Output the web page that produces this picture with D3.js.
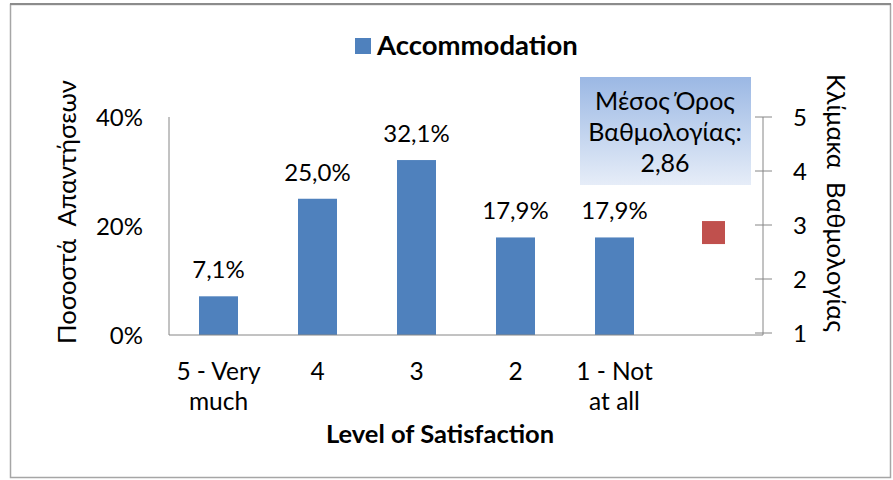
<!DOCTYPE html>
<html>
<head>
<meta charset="utf-8">
<script src="https://cdn.jsdelivr.net/npm/d3@7"></script>
<style>
  body { margin: 0; background: #fff; }
  text { font-family: Lato, "Open Sans", sans-serif; fill: #000; }
  .axis path, .axis line { stroke: #868686; }
</style>
</head>
<body>
<svg id="chart" width="893" height="480"></svg>
<script>
// data
const categories = ['5 - Very much', '4', '3', '2', '1 - Not at all'];
const tickLines = [['5 - Very', 'much'], ['4'], ['3'], ['2'], ['1 - Not', 'at all']];
const percents = [7.1, 25.0, 32.1, 17.9, 17.9];
const meanScore = 2.86;
const leftTicks = [0, 20, 40];
const rightTicks = [1, 2, 3, 4, 5];

const margin = { top: 117, bottom: 145, left: 169, right: 130 };
const dims = {
    width: 893 - margin.left - margin.right,
    height: 480 - margin.top - margin.bottom,
};

const svg = d3.select('#chart');

// outer frame
svg.append('rect')
   .attr('x', 10.5).attr('y', 4.5)
   .attr('width', 880).attr('height', 473)
   .attr('fill', '#fff')
   .attr('stroke', '#a6a6a6')
   .attr('stroke-width', 1.5);
svg.append('line')
   .attr('x1', 10).attr('x2', 891).attr('y1', 4).attr('y2', 4)
   .attr('stroke', '#8c8c8c').attr('stroke-width', 2);

const g = svg.append('g')
   .attr('transform', `translate(${margin.left}, ${margin.top})`);

const slots = categories.concat(['mean']);
const x = d3.scaleBand().domain(slots).range([0, dims.width]);
const y = d3.scaleLinear().domain([0, 40]).range([dims.height, 0]);
const y2 = d3.scaleLinear().domain([1, 5]).range([dims.height - 2, 0]);

const fmt = v => v.toFixed(1).replace('.', ',') + '%';
const barW = 39;

// bars
g.selectAll('rect.bar')
 .data(percents)
 .enter().append('rect')
 .attr('class', 'bar')
 .attr('x', (d, i) => x(categories[i]) + x.bandwidth() / 2 - barW / 2)
 .attr('width', barW)
 .attr('y', d => y(d))
 .attr('height', d => dims.height - y(d))
 .attr('fill', '#4f81bd');

// data labels
g.selectAll('text.lbl')
 .data(percents)
 .enter().append('text')
 .attr('class', 'lbl')
 .attr('x', (d, i) => x(categories[i]) + x.bandwidth() / 2)
 .attr('y', d => y(d) - 18)
 .attr('text-anchor', 'middle')
 .style('font-size', '24px')
 .text(fmt);

// left axis
g.append('line')
 .attr('x1', 0).attr('x2', 0).attr('y1', 0).attr('y2', dims.height)
 .attr('stroke', '#868686');
g.selectAll('text.ltick')
 .data(leftTicks)
 .enter().append('text')
 .attr('x', -26)
 .attr('y', d => y(d))
 .attr('dy', '0.36em')
 .attr('text-anchor', 'end')
 .style('font-size', '24px')
 .text(d => d + '%');

// bottom axis
g.append('line')
 .attr('x1', 0).attr('x2', dims.width).attr('y1', dims.height).attr('y2', dims.height)
 .attr('stroke', '#868686');
g.selectAll('text.xtick')
 .data(tickLines)
 .enter().append('text')
 .attr('text-anchor', 'middle')
 .attr('transform', (d, i) => `translate(${x(categories[i]) + x.bandwidth() / 2}, ${dims.height + 45})`)
 .style('font-size', '24.5px')
 .selectAll('tspan')
 .data(d => d)
 .enter().append('tspan')
 .attr('x', 0)
 .attr('dy', (d, i) => i === 0 ? 0 : 30)
 .text(d => d);

// right axis
const right = g.append('g')
 .attr('class', 'axis')
 .attr('transform', `translate(${dims.width}, 0)`);
right.append('line')
 .attr('y1', y2(5)).attr('y2', dims.height).attr('stroke', '#868686');
right.selectAll('line.tick')
 .data(rightTicks)
 .enter().append('line')
 .attr('x1', -8).attr('x2', 9)
 .attr('y1', d => y2(d)).attr('y2', d => y2(d))
 .attr('stroke', '#868686');
right.selectAll('text')
 .data(rightTicks)
 .enter().append('text')
 .attr('x', 30)
 .attr('y', d => y2(d))
 .attr('dy', '0.36em')
 .style('font-size', '24px')
 .text(d => d);

// mean marker
g.append('rect')
 .attr('x', x('mean') + x.bandwidth() / 2 - 11.5)
 .attr('y', y2(meanScore) - 11.5)
 .attr('width', 23).attr('height', 23)
 .attr('fill', '#c0504d');

// mean info box
const grad = svg.append('defs').append('linearGradient')
 .attr('id', 'boxgrad').attr('x1', 0).attr('x2', 0).attr('y1', 0).attr('y2', 1);
grad.append('stop').attr('offset', '0%').attr('stop-color', '#9bb8e4');
grad.append('stop').attr('offset', '100%').attr('stop-color', '#e6edf8');
svg.append('rect')
 .attr('x', 580).attr('y', 77).attr('width', 171).attr('height', 108)
 .attr('fill', 'url(#boxgrad)');
svg.append('text')
 .attr('text-anchor', 'middle')
 .attr('transform', 'translate(665, 110)')
 .style('font-size', '25px')
 .selectAll('tspan')
 .data(['Μέσος Όρος', 'Βαθμολογίας:', String(meanScore).replace('.', ',')])
 .enter().append('tspan')
 .attr('x', 0)
 .attr('dy', (d, i) => i === 0 ? 0 : 31)
 .text(d => d);

// legend / title
svg.append('rect')
 .attr('x', 355).attr('y', 38).attr('width', 16).attr('height', 16)
 .attr('fill', '#4f81bd');
svg.append('text')
 .attr('x', 377).attr('y', 55)
 .style('font-size', '27.5px').style('font-weight', 'bold')
 .text('Accommodation');

// axis titles
svg.append('text')
 .attr('text-anchor', 'middle')
 .attr('x', 440).attr('y', 443)
 .style('font-size', '25.5px').style('font-weight', 'bold')
 .text('Level of Satisfaction');

svg.append('text')
 .attr('text-anchor', 'middle')
 .attr('transform', 'translate(76, 212) rotate(-90)')
 .style('font-size', '25.5px')
 .style('white-space', 'pre')
 .text('Ποσοστά  Απαντήσεων');

svg.append('text')
 .attr('text-anchor', 'middle')
 .attr('transform', 'translate(827, 203) rotate(90)')
 .style('font-size', '25.5px')
 .style('white-space', 'pre')
 .text('Κλίμακα  Βαθμολογίας');
</script>
</body>
</html>
